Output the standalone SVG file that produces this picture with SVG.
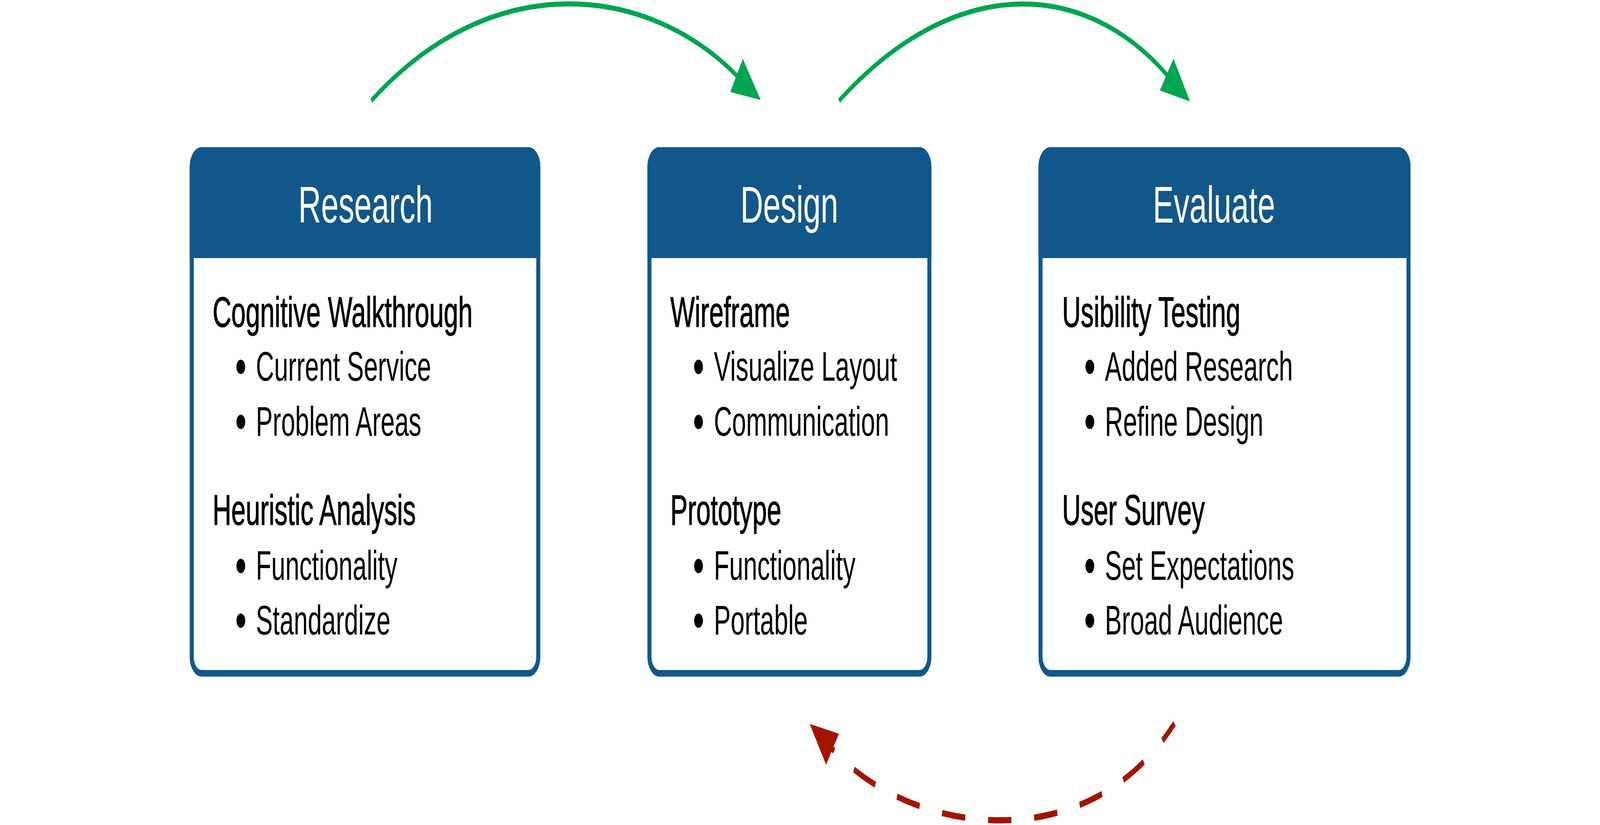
<svg xmlns="http://www.w3.org/2000/svg" width="6722" height="2113" viewBox="0 0 6722 2113" preserveAspectRatio="none" style="width:100%;height:100%">
<style>
.frame{fill:#ffffff;stroke:#12578a;stroke-width:17}
.hdr{fill:#12578a}
.title{font-family:"Liberation Sans",Arial,sans-serif;font-size:132px;fill:#ffffff;text-anchor:middle}
.head{font-family:"Liberation Sans",Arial,sans-serif;font-size:109px;fill:#000000;stroke:#000000;stroke-width:1.5}
.item{font-family:"Liberation Sans",Arial,sans-serif;font-size:106px;fill:#000000}
.bul{font-family:"Liberation Sans",Arial,sans-serif;font-size:136px;fill:#000000}
.fwd{fill:none;stroke:#00a550;stroke-width:13}
.back{fill:none;stroke:#a31400;stroke-width:16;stroke-dasharray:98 96;stroke-dashoffset:49}
</style>
<defs>
<marker id="ahG" markerUnits="userSpaceOnUse" viewBox="0 0 120 100" markerWidth="120" markerHeight="100" refX="2" refY="50" orient="auto">
<path d="M0,0 L120,50 L0,100 Z" fill="#00a550"/>
</marker>
<marker id="ahR" markerUnits="userSpaceOnUse" viewBox="0 0 116 96" markerWidth="116" markerHeight="96" refX="2" refY="48" orient="auto">
<path d="M0,0 L116,48 L0,96 Z" fill="#a31400"/>
</marker>
</defs>
<rect x="0" y="0" width="6722" height="2113" fill="#ffffff"/>

<g id="connectors">
<path class="fwd" d="M1560,258 C2068,-85 2721,-39 3096,194" marker-end="url(#ahG)"/>
<path class="fwd" d="M3525,258 C4002,-64 4549,-57 4903,192" marker-end="url(#ahG)"/>
<path class="back" d="M4200,2101 C4472.5,2101.25 4750,2029.5 4934,1853 M4200,2101 C3927.5,2101 3660,2029 3496,1918" marker-end="url(#ahR)"/>
</g>

<g id="research">
<rect class="frame" x="805.5" y="385.5" width="1456" height="1339" rx="42"/>
<path class="hdr" d="M797,661 V427 A50,50 0 0 1 847,377 H2220 A50,50 0 0 1 2270,427 V661 Z"/>
<text class="title" x="1536" y="570">Research</text>
<text class="head" x="893" y="837">Cognitive Walkthrough</text>
<text class="bul" x="988" y="985">•</text><text class="item" x="1075" y="975">Current Service</text>
<text class="bul" x="988" y="1126">•</text><text class="item" x="1075" y="1116">Problem Areas</text>
<text class="head" x="893" y="1344">Heuristic Analysis</text>
<text class="bul" x="988" y="1495">•</text><text class="item" x="1075" y="1485">Functionality</text>
<text class="bul" x="988" y="1635">•</text><text class="item" x="1075" y="1625">Standardize</text>
</g>

<g id="design">
<rect class="frame" x="2728.5" y="385.5" width="1176" height="1339" rx="42"/>
<path class="hdr" d="M2720,661 V427 A50,50 0 0 1 2770,377 H3863 A50,50 0 0 1 3913,427 V661 Z"/>
<text class="title" x="3316" y="570">Design</text>
<text class="head" x="2816" y="837">Wireframe</text>
<text class="bul" x="2911" y="985">•</text><text class="item" x="2999" y="975">Visualize Layout</text>
<text class="bul" x="2911" y="1126">•</text><text class="item" x="2999" y="1116">Communication</text>
<text class="head" x="2816" y="1344">Prototype</text>
<text class="bul" x="2911" y="1495">•</text><text class="item" x="2999" y="1485">Functionality</text>
<text class="bul" x="2911" y="1635">•</text><text class="item" x="2999" y="1625">Portable</text>
</g>

<g id="evaluate">
<rect class="frame" x="4371.5" y="385.5" width="1546" height="1339" rx="42"/>
<path class="hdr" d="M4363,661 V427 A50,50 0 0 1 4413,377 H5876 A50,50 0 0 1 5926,427 V661 Z"/>
<text class="title" x="5100" y="570">Evaluate</text>
<text class="head" x="4462" y="837">Usibility Testing</text>
<text class="bul" x="4555" y="985">•</text><text class="item" x="4642" y="975">Added Research</text>
<text class="bul" x="4555" y="1126">•</text><text class="item" x="4642" y="1116">Refine Design</text>
<text class="head" x="4462" y="1344">User Survey</text>
<text class="bul" x="4555" y="1495">•</text><text class="item" x="4642" y="1485">Set Expectations</text>
<text class="bul" x="4555" y="1635">•</text><text class="item" x="4642" y="1625">Broad Audience</text>
</g>
</svg>
